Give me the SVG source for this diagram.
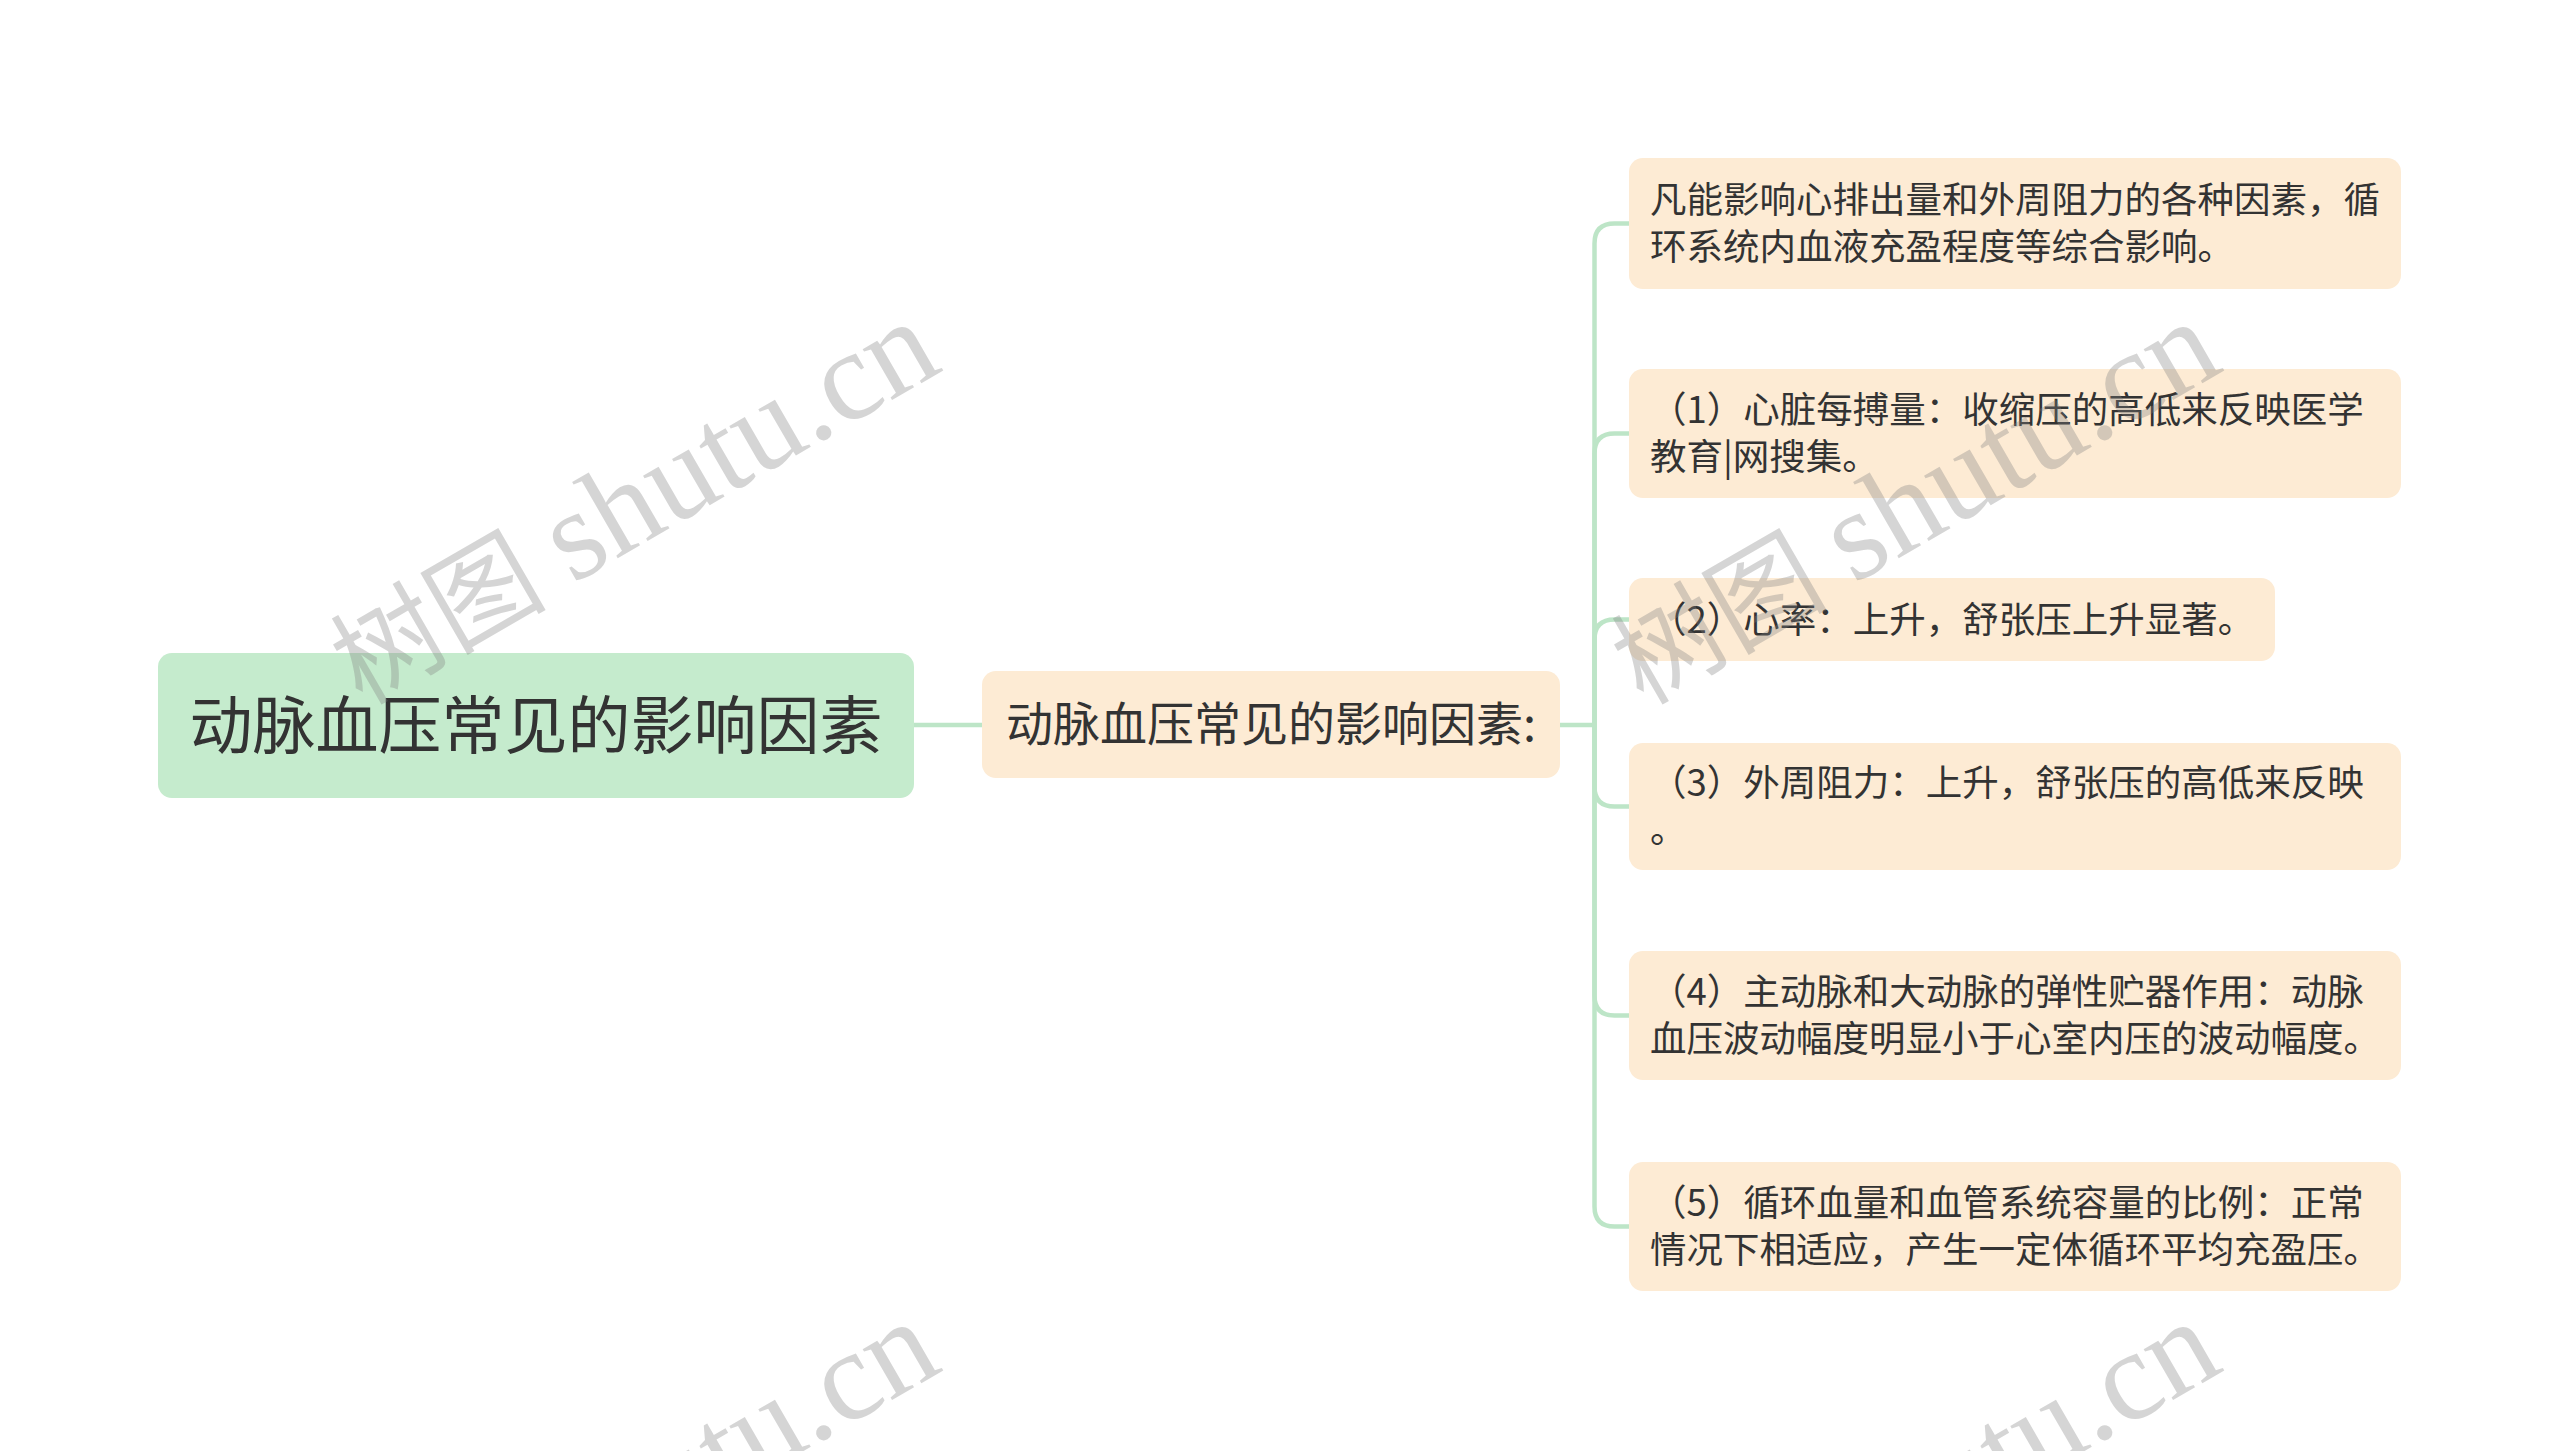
<svg xmlns="http://www.w3.org/2000/svg" width="2560" height="1451" viewBox="0 0 2560 1451">
<style>
.bg{fill:#ffffff}
.root{fill:#c5ebcd}
.node{fill:#fdebd4}
.t{font-family:"Noto Sans CJK SC","Noto Sans",sans-serif;fill:#333333}
.rt{font-size:63px;text-anchor:middle}
.ct{font-size:47px;text-anchor:middle}
.lt{font-size:36.5px}
.conn{fill:none;stroke:#bde5c7;stroke-width:4.5;stroke-linecap:round}
.wm{font-family:"Liberation Serif","Noto Sans CJK SC",serif;font-size:108px;fill:#808080;fill-opacity:0.33}
.wl{font-size:128px}
</style>
<rect class="bg" x="0" y="0" width="2560" height="1451"/>
<g id="connectors">
<path class="conn" d="M914,725 H982"/>
<path class="conn" d="M1560,725 H1594.5"/>
<path class="conn" d="M1594.5,725 V243.5 Q1594.5,223.5 1614.5,223.5 H1629"/>
<path class="conn" d="M1594.5,725 V453.5 Q1594.5,433.5 1614.5,433.5 H1629"/>
<path class="conn" d="M1594.5,725 V639.5 Q1594.5,619.5 1614.5,619.5 H1629"/>
<path class="conn" d="M1594.5,725 V786.5 Q1594.5,806.5 1614.5,806.5 H1629"/>
<path class="conn" d="M1594.5,725 V995.5 Q1594.5,1015.5 1614.5,1015.5 H1629"/>
<path class="conn" d="M1594.5,725 V1206.5 Q1594.5,1226.5 1614.5,1226.5 H1629"/>
</g>
<g id="root">
<rect class="root" x="158" y="653" width="756" height="145" rx="14"/>
<text class="t rt" x="536" y="748">动脉血压常见的影响因素</text>
</g>
<g id="center">
<rect class="node" x="982" y="671" width="578" height="107" rx="14"/>
<text class="t ct" x="1271" y="741">动脉血压常见的影响因素:</text>
</g>
<g id="c1">
<rect class="node" x="1629" y="158" width="772" height="131" rx="14"/>
<text class="t lt" x="1650" y="213">凡能影响心排出量和外周阻力的各种因素，循</text>
<text class="t lt" x="1650" y="260">环系统内血液充盈程度等综合影响。</text>
</g>
<g id="c2">
<rect class="node" x="1629" y="369" width="772" height="129" rx="14"/>
<text class="t lt" x="1650" y="423">（1）心脏每搏量：收缩压的高低来反映医学</text>
<text class="t lt" x="1650" y="470">教育|网搜集。</text>
</g>
<g id="c3">
<rect class="node" x="1629" y="578" width="646" height="83" rx="14"/>
<text class="t lt" x="1650" y="632.5">（2）心率：上升，舒张压上升显著。</text>
</g>
<g id="c4">
<rect class="node" x="1629" y="743" width="772" height="127" rx="14"/>
<text class="t lt" x="1650" y="796">（3）外周阻力：上升，舒张压的高低来反映</text>
<text class="t lt" x="1650" y="843">。</text>
</g>
<g id="c5">
<rect class="node" x="1629" y="951" width="772" height="129" rx="14"/>
<text class="t lt" x="1650" y="1005">（4）主动脉和大动脉的弹性贮器作用：动脉</text>
<text class="t lt" x="1650" y="1052">血压波动幅度明显小于心室内压的波动幅度。</text>
</g>
<g id="c6">
<rect class="node" x="1629" y="1162" width="772" height="129" rx="14"/>
<text class="t lt" x="1650" y="1216">（5）循环血量和血管系统容量的比例：正常</text>
<text class="t lt" x="1650" y="1263">情况下相适应，产生一定体循环平均充盈压。</text>
</g>
<g id="watermarks">
<text class="wm" transform="translate(362,706) rotate(-30)">树图 <tspan class="wl">shutu.cn</tspan></text>
<text class="wm" transform="translate(1643,706) rotate(-30)">树图 <tspan class="wl">shutu.cn</tspan></text>
<text class="wm" transform="translate(362,1706) rotate(-30)">树图 <tspan class="wl">shutu.cn</tspan></text>
<text class="wm" transform="translate(1643,1706) rotate(-30)">树图 <tspan class="wl">shutu.cn</tspan></text>
</g>
</svg>
